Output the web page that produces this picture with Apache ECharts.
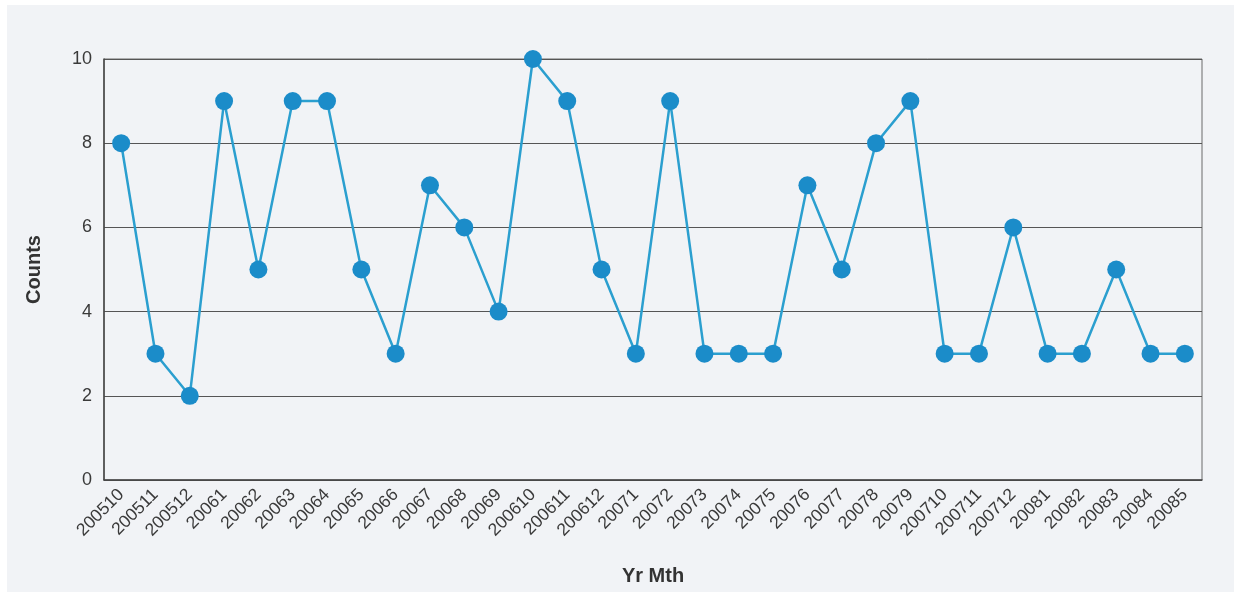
<!DOCTYPE html>
<html><head><meta charset="utf-8">
<script src="https://cdn.jsdelivr.net/npm/echarts@6/dist/echarts.min.js"></script>
<style>html,body{margin:0;padding:0;background:#fff;}#c{width:1241px;height:597px;}</style>
</head><body><div id="c"></div>
<script>
const categories = ["200510","200511","200512","20061","20062","20063","20064","20065","20066","20067","20068","20069","200610","200611","200612","20071","20072","20073","20074","20075","20076","20077","20078","20079","200710","200711","200712","20081","20082","20083","20084","20085"];
const counts = [8,3,2,9,5,9,9,5,3,7,6,4,10,9,5,3,9,3,3,3,7,5,8,9,3,3,6,3,3,5,3,3];
const yTicks = [0,2,4,6,8,10];

const chart = echarts.init(document.getElementById('c'));
chart.setOption({
  backgroundColor: '#ffffff',
  animation: false,
  graphic: [{type:'rect', z:-10, shape:{x:7,y:5,width:1227,height:587}, style:{fill:'#f1f3f6'}}],
  grid: {left:104, right:39, top:59, height:421, show:true, borderColor:'#6a6a6a', borderWidth:1, backgroundColor:'transparent'},
  xAxis: {
    type:'category', data:categories, boundaryGap:true,
    axisLine:{lineStyle:{color:'#444', width:1.5}},
    axisTick:{show:false},
    axisLabel:{rotate:45, color:'#3a3a3a', fontSize:17.5, fontFamily:'Liberation Sans, Arial', interval:0, margin:12},
    name:'Yr Mth', nameLocation:'middle', nameGap:86,
    nameTextStyle:{fontWeight:'bold', fontSize:20, color:'#333', fontFamily:'Liberation Sans, Arial'}
  },
  yAxis: {
    type:'value', min:yTicks[0], max:yTicks[yTicks.length-1], interval:2,
    axisLine:{show:true, lineStyle:{color:'#444', width:1.5}},
    axisTick:{show:false},
    splitLine:{lineStyle:{color:'#555', width:1.2}},
    axisLabel:{color:'#3a3a3a', fontSize:18, fontFamily:'Liberation Sans, Arial', margin:12},
    name:'Counts', nameLocation:'middle', nameGap:60, nameRotate:90,
    nameTextStyle:{fontWeight:'bold', fontSize:20, color:'#333', fontFamily:'Liberation Sans, Arial'}
  },
  series: [{
    type:'line', data:counts, symbol:'circle', symbolSize:18,
    lineStyle:{color:'#2b9fcf', width:2.5},
    itemStyle:{color:'#1b8cc9'}
  }]
});
</script></body></html>
